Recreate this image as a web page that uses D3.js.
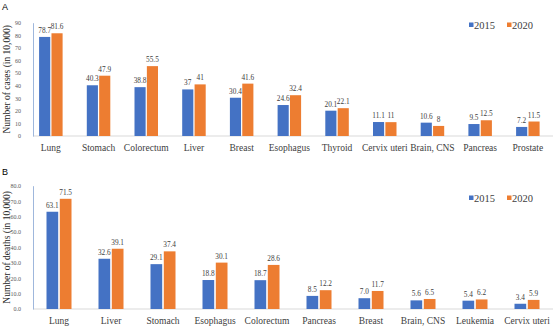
<!DOCTYPE html>
<html><head><meta charset="utf-8">
<script src="https://cdn.jsdelivr.net/npm/d3@7"></script>
<style>body{margin:0;background:#fff}svg{display:block}</style>
</head><body>
<svg id="c" width="554" height="327"></svg>
<script>
const series = ["2015", "2020"];
const casesCats = ["Lung","Stomach","Colorectum","Liver","Breast","Esophagus","Thyroid","Cervix uteri","Brain, CNS","Pancreas","Prostate"];
const cases2015 = [78.7, 40.3, 38.8, 37, 30.4, 24.6, 20.1, 11.1, 10.6, 9.5, 7.2];
const cases2020 = [81.6, 47.9, 55.5, 41, 41.6, 32.4, 22.1, 11, 8, 12.5, 11.5];
const casesTicks = [0,10,20,30,40,50,60,70,80,90];
const deathCats = ["Lung","Liver","Stomach","Esophagus","Colorectum","Pancreas","Breast","Brain, CNS","Leukemia","Cervix uteri"];
const death2015 = [63.1, 32.6, 29.1, 18.8, 18.7, 8.5, 7.0, 5.6, 5.4, 3.4];
const death2020 = [71.5, 39.1, 37.4, 30.1, 28.6, 12.2, 11.7, 6.5, 6.2, 5.9];
const deathTicks = [0,10,20,30,40,50,60,70,80];

const colors = {"2015":"#4472C4","2020":"#ED7D31"};
const svg = d3.select("#c");
const serif = "'Liberation Serif','Times New Roman',serif";

function panel(o){
  const g = svg.append("g");
  const y = d3.scaleLinear().domain([0, o.ymax]).range([o.y0, o.y1]);
  const x0 = d3.scaleBand().domain(o.cats).range(o.xr);
  const x1 = d3.scaleBand().domain(series).range([0, o.pairW]).paddingInner(o.pad);
  // panel letter
  g.append("text").attr("x",2).attr("y",o.letterY).text(o.letter)
    .attr("font-family","Arial,'Liberation Sans',sans-serif").attr("font-size",9).attr("fill","#000");
  // baseline
  g.append("line").attr("x1",o.axisX).attr("x2",553).attr("y1",y(0)).attr("y2",y(0))
    .attr("stroke","#d9d9d9").attr("stroke-width",1);
  // y axis
  const ya = d3.axisLeft(y).tickValues(o.ticks).tickSize(0).tickPadding(o.axisX-21)
    .tickFormat(o.fmt);
  const ag = g.append("g").attr("transform",`translate(${o.axisX},0)`).call(ya);
  ag.select(".domain").attr("stroke","#9fb7dc").attr("stroke-width",1);
  ag.selectAll("text").attr("font-family",serif).attr("font-size",6).attr("fill","#595959");
  // y title
  g.append("text").attr("transform",`translate(10,${(o.y0+o.y1)/2}) rotate(-90)`)
    .attr("text-anchor","middle").attr("font-family",serif).attr("font-size",9.5).attr("fill","#262626")
    .text(o.title);
  // bars
  const data = o.cats.map((c,i)=>({c, vals: series.map((s,j)=>({s, v: o.vals[j][i]}))}));
  const grp = g.selectAll(".grp").data(data).join("g")
    .attr("transform", d=>`translate(${x0(d.c)+x0.bandwidth()/2-o.pairW/2},0)`);
  grp.selectAll("rect").data(d=>d.vals).join("rect")
    .attr("x", d=>x1(d.s)).attr("width", x1.bandwidth())
    .attr("y", d=>y(d.v)).attr("height", d=>y(0)-y(d.v))
    .attr("fill", d=>colors[d.s]);
  grp.selectAll(".vl").data(d=>d.vals).join("text")
    .attr("x", d=>x1(d.s)+x1.bandwidth()/2).attr("y", d=>y(d.v)-4)
    .attr("text-anchor","middle").attr("font-family",serif).attr("font-size",7.3).attr("fill","#404040")
    .text(d=>o.vfmt(d.v));
  // x labels
  const xa = d3.axisBottom(x0).tickSize(0).tickPadding(o.labPad);
  const xg = g.append("g").attr("transform",`translate(0,${y(0)})`).call(xa);
  xg.select(".domain").remove();
  xg.selectAll("text").attr("font-family",serif).attr("font-size",9.5).attr("fill","#404040");
  // legend
  const lg = g.append("g").attr("transform",`translate(469,${o.legY})`);
  series.forEach((s,i)=>{
    const gx = i*38;
    lg.append("rect").attr("x",gx).attr("y",-2.5).attr("width",4.5).attr("height",4.5).attr("fill",colors[s]);
    lg.append("text").attr("x",gx+5).attr("y",3.5).text(s)
      .attr("font-family",serif).attr("font-size",10.5).attr("fill","#404040");
  });
}

panel({letter:"A", letterY:10, cats:casesCats, vals:[cases2015,cases2020], ymax:90, y0:136, y1:22.7,
  xr:[27, 551.7], pairW:23.5, pad:0.1, axisX:33, ticks:casesTicks, fmt:d3.format("d"),
  vfmt:v=>String(v), title:"Number of cases (in 10,000)", legY:25, labPad:8});
panel({letter:"B", letterY:175, cats:deathCats, vals:[death2015,death2020], ymax:80, y0:309, y1:185.7,
  xr:[33, 553], pairW:25, pad:0.12, axisX:33, ticks:deathTicks, fmt:d3.format(".1f"),
  vfmt:v=>v.toFixed(1), title:"Number of deaths (in 10,000)", legY:198, labPad:8});
</script>
</body></html>
